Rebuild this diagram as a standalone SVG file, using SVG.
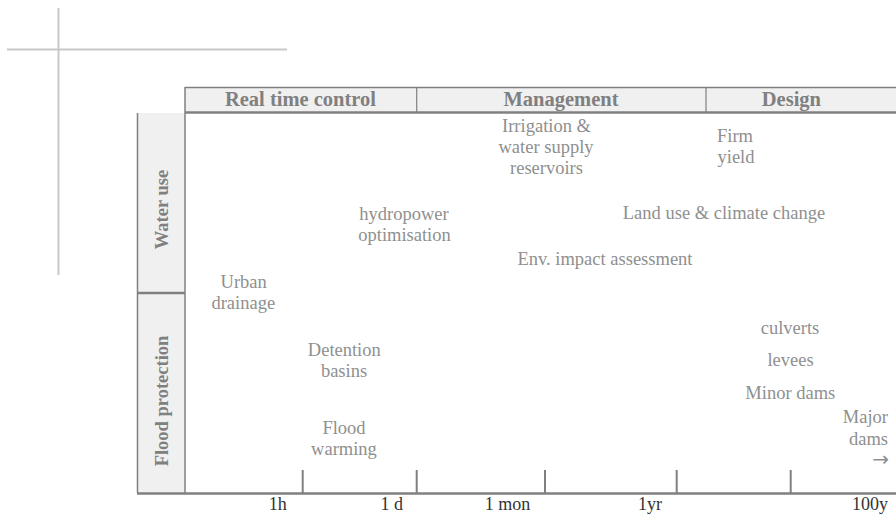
<svg xmlns="http://www.w3.org/2000/svg" width="896" height="516" viewBox="0 0 896 516">
<style>
.frame{stroke:#808080;fill:none}
.cell{fill:#f0f0f0}
.hdr{font-family:"Liberation Serif",serif;font-weight:bold;font-size:20.5px;fill:#808080;text-anchor:middle}
.side{font-family:"Liberation Serif",serif;font-weight:bold;font-size:18.5px;fill:#808080;text-anchor:middle}
.item{font-family:"Liberation Serif",serif;font-size:18.5px;fill:#8f8f8f;text-anchor:middle}
.tick{font-family:"Liberation Serif",serif;font-size:18px;fill:#333333;text-anchor:middle}
.guide{stroke:#c8c8c8;stroke-width:2;fill:none}
</style>
<rect width="896" height="516" fill="#ffffff"/>
<g id="guides">
<line class="guide" x1="58.5" y1="8" x2="58.5" y2="275"/>
<line class="guide" x1="7" y1="49.5" x2="287" y2="49.5"/>
</g>
<g id="header">
<rect class="cell" x="185" y="87" width="711" height="25"/>
<line class="frame" x1="185" y1="87.5" x2="896" y2="87.5" stroke-width="1.5"/>
<line class="frame" x1="185" y1="112.5" x2="896" y2="112.5" stroke-width="2.5"/>
<line class="frame" x1="416.7" y1="87" x2="416.7" y2="112" stroke-width="1.2"/>
<line class="frame" x1="706" y1="87" x2="706" y2="112" stroke-width="1.2"/>
<text class="hdr" x="300.5" y="106">Real time control</text>
<text class="hdr" x="561" y="106">Management</text>
<text class="hdr" x="791.4" y="106">Design</text>
</g>
<g id="rows">
<rect class="cell" x="137.5" y="113" width="47.5" height="380"/>
<line class="frame" x1="137.5" y1="113" x2="137.5" y2="493" stroke-width="1.5"/>
<line class="frame" x1="185" y1="87" x2="185" y2="493" stroke-width="1.5"/>
<line class="frame" x1="137" y1="293" x2="185" y2="293" stroke-width="2.5"/>
<text class="side" transform="translate(168 209.5) rotate(-90)">Water use</text>
<text class="side" transform="translate(168 401) rotate(-90)">Flood protection</text>
</g>
<g id="axis">
<line class="frame" x1="137" y1="493.5" x2="896" y2="493.5" stroke-width="2.5"/>
<line class="frame" x1="302.7" y1="470" x2="302.7" y2="493" stroke-width="2"/>
<line class="frame" x1="416.7" y1="470" x2="416.7" y2="493" stroke-width="2"/>
<line class="frame" x1="545" y1="470" x2="545" y2="493" stroke-width="2"/>
<line class="frame" x1="676.7" y1="470" x2="676.7" y2="493" stroke-width="2"/>
<line class="frame" x1="790.7" y1="470" x2="790.7" y2="493" stroke-width="2"/>
<text class="tick" x="277.8" y="510">1h</text>
<text class="tick" x="391.7" y="510">1 d</text>
<text class="tick" x="507.5" y="510">1 mon</text>
<text class="tick" x="650" y="510">1yr</text>
<text class="tick" x="888" y="510" style="text-anchor:end">100y</text>
</g>
<g id="irrigation"><text class="item" x="546.5" y="131.5">Irrigation  &amp;</text><text class="item" x="546" y="152.5">water supply</text><text class="item" x="546.5" y="173.5">reservoirs</text></g>
<g id="firm-yield"><text class="item" x="735" y="142">Firm</text><text class="item" x="736" y="163">yield</text></g>
<g id="land-use"><text class="item" x="724" y="219">Land use &amp; climate change</text></g>
<g id="hydropower"><text class="item" x="404" y="220">hydropower</text><text class="item" x="404.5" y="241">optimisation</text></g>
<g id="env-impact"><text class="item" x="605" y="265">Env. impact assessment</text></g>
<g id="urban-drainage"><text class="item" x="243.7" y="288">Urban</text><text class="item" x="243.3" y="308.5">drainage</text></g>
<g id="detention"><text class="item" x="344.3" y="356">Detention</text><text class="item" x="344" y="377">basins</text></g>
<g id="flood-warming"><text class="item" x="344" y="434">Flood</text><text class="item" x="344" y="455">warming</text></g>
<g id="culverts"><text class="item" x="790" y="334">culverts</text></g>
<g id="levees"><text class="item" x="790.5" y="366">levees</text></g>
<g id="minor-dams"><text class="item" x="790.3" y="399">Minor dams</text></g>
<g id="major-dams"><text class="item" x="888" y="423" style="text-anchor:end">Major</text><text class="item" x="888" y="445" style="text-anchor:end">dams</text><text class="item" x="889" y="466" style="text-anchor:end;font-family:'DejaVu Sans',sans-serif;font-size:20px">→</text></g>
</svg>
